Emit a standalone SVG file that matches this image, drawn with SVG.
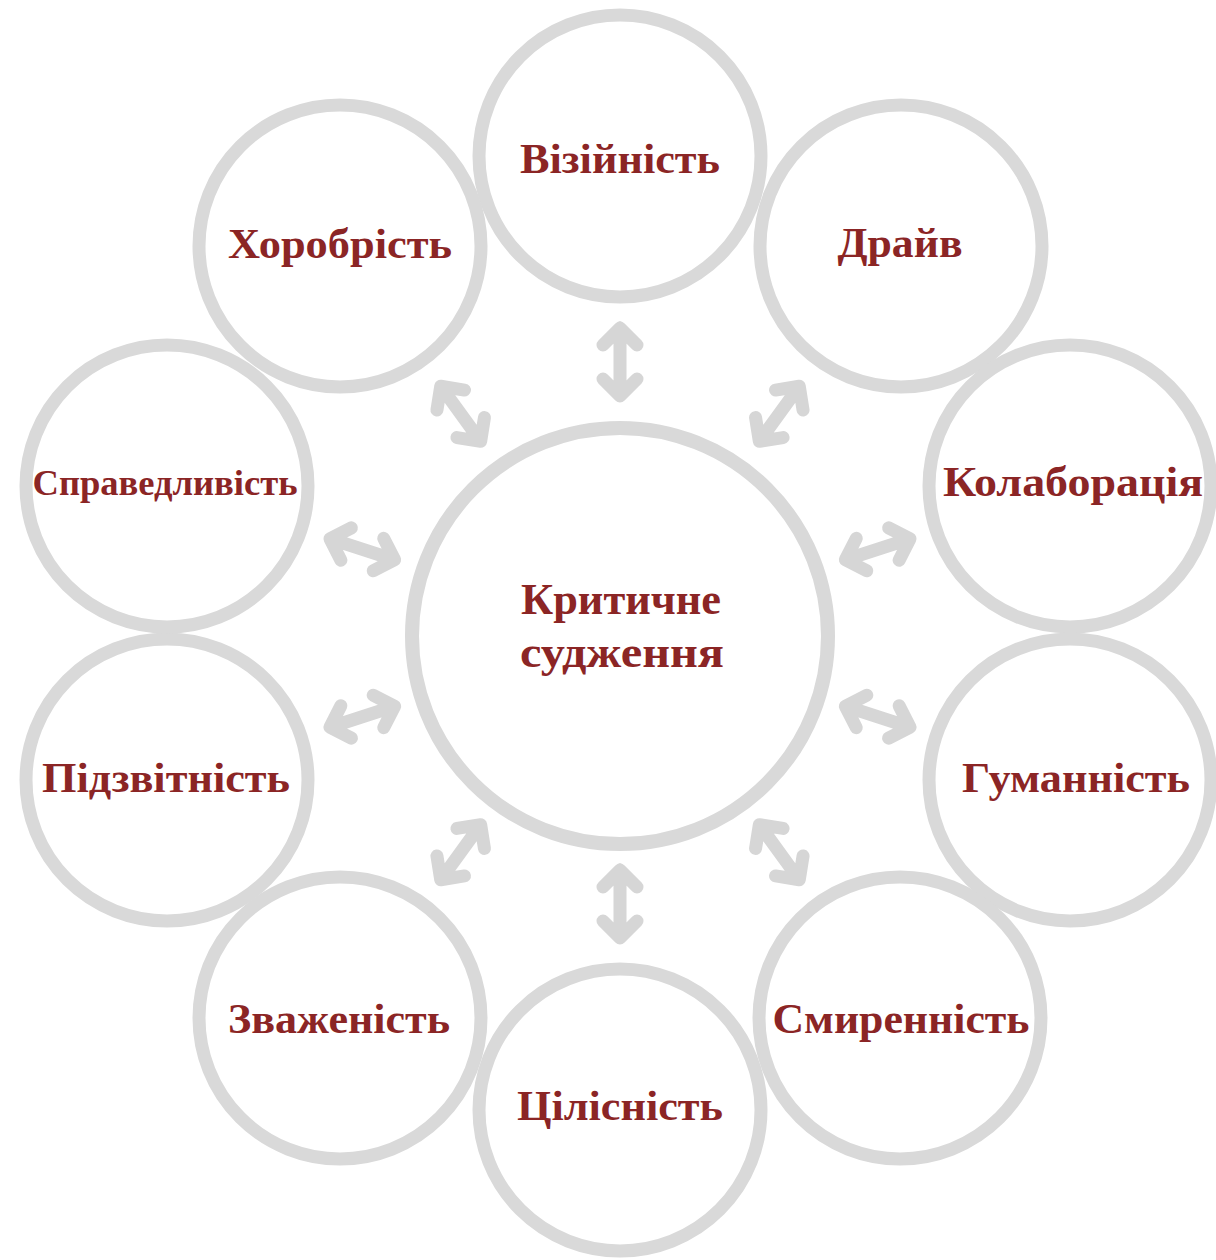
<svg xmlns="http://www.w3.org/2000/svg" width="1216" height="1260" viewBox="0 0 1216 1260">
<style>
.ring{fill:none;stroke:#d9d9d9;stroke-width:13}
.core{fill:none;stroke:#d9d9d9;stroke-width:14}
.lbl{font-family:"Liberation Serif","DejaVu Serif",serif;font-weight:bold;font-size:42px;fill:#8b2525;text-anchor:middle}
.arw{fill:none;stroke:#d6d6d6;stroke-width:13;stroke-linecap:round;stroke-linejoin:round}
</style>
<defs>
<path id="dbl" class="arw" d="M0,-34 L0,34 M-17,-17 L0,-34 L17,-17 M-17,17 L0,34 L17,17"/>
</defs>
<rect width="1216" height="1260" fill="#ffffff"/>
<g id="connectors">
<use href="#dbl" transform="translate(620,362) rotate(0)"/>
<use href="#dbl" transform="translate(779.3,413.8) rotate(36)"/>
<use href="#dbl" transform="translate(877.7,549.3) rotate(72)"/>
<use href="#dbl" transform="translate(877.7,716.7) rotate(108)"/>
<use href="#dbl" transform="translate(779.3,852.2) rotate(144)"/>
<use href="#dbl" transform="translate(620,904) rotate(180)"/>
<use href="#dbl" transform="translate(460.7,852.2) rotate(216)"/>
<use href="#dbl" transform="translate(362.3,716.7) rotate(252)"/>
<use href="#dbl" transform="translate(362.3,549.3) rotate(288)"/>
<use href="#dbl" transform="translate(460.7,413.8) rotate(324)"/>
</g>
<g id="node-center">
<circle class="core" cx="620" cy="636" r="208"/>
<text class="lbl" x="621" y="614" style="font-size:44px" textLength="200" lengthAdjust="spacingAndGlyphs">Критичне</text>
<text class="lbl" x="622" y="667" style="font-size:44px" textLength="204" lengthAdjust="spacingAndGlyphs">судження</text>
</g>
<g id="node-vision">
<circle class="ring" cx="620" cy="156" r="141"/>
<text class="lbl" x="620" y="173" textLength="200" lengthAdjust="spacingAndGlyphs">Візійність</text>
</g>
<g id="node-drive">
<circle class="ring" cx="901" cy="246" r="141"/>
<text class="lbl" x="900" y="257" textLength="125" lengthAdjust="spacingAndGlyphs">Драйв</text>
</g>
<g id="node-collaboration">
<circle class="ring" cx="1070" cy="486" r="141"/>
<text class="lbl" x="1073" y="496" textLength="260" lengthAdjust="spacingAndGlyphs">Колаборація</text>
</g>
<g id="node-humanity">
<circle class="ring" cx="1070" cy="780" r="141"/>
<text class="lbl" x="1076" y="792" textLength="228" lengthAdjust="spacingAndGlyphs">Гуманність</text>
</g>
<g id="node-humility">
<circle class="ring" cx="900" cy="1018" r="141"/>
<text class="lbl" x="901" y="1033" textLength="257" lengthAdjust="spacingAndGlyphs">Смиренність</text>
</g>
<g id="node-integrity">
<circle class="ring" cx="620" cy="1110" r="141"/>
<text class="lbl" x="620" y="1120" textLength="206" lengthAdjust="spacingAndGlyphs">Цілісність</text>
</g>
<g id="node-prudence">
<circle class="ring" cx="340" cy="1018" r="141"/>
<text class="lbl" x="339" y="1033" textLength="222" lengthAdjust="spacingAndGlyphs">Зваженість</text>
</g>
<g id="node-accountability">
<circle class="ring" cx="167" cy="780" r="141"/>
<text class="lbl" x="166" y="792" textLength="248" lengthAdjust="spacingAndGlyphs">Підзвітність</text>
</g>
<g id="node-justice">
<circle class="ring" cx="167" cy="486" r="141"/>
<text class="lbl" x="165" y="495" style="font-size:36px" textLength="265" lengthAdjust="spacingAndGlyphs">Справедливість</text>
</g>
<g id="node-courage">
<circle class="ring" cx="340" cy="246" r="141"/>
<text class="lbl" x="340" y="258" textLength="224" lengthAdjust="spacingAndGlyphs">Хоробрість</text>
</g>
</svg>
